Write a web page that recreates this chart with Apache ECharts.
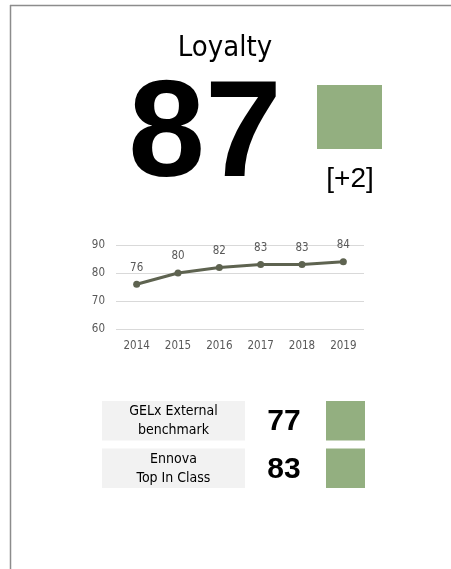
<!DOCTYPE html>
<html>
<head>
<meta charset="utf-8">
<script src="https://cdn.jsdelivr.net/npm/echarts@6/dist/echarts.min.js"></script>
<style>
  html, body { margin: 0; padding: 0; background: #fff; }
  #chart { width: 451px; height: 569px; }
</style>
</head>
<body>
<div id="chart"></div>
<script>
// trend data
const years = ["2014", "2015", "2016", "2017", "2018", "2019"];
const loyaltyValues = [76, 80, 82, 83, 83, 84];
const yTicks = [60, 70, 80, 90];

// headline kpi
const kpiTitle = "Loyalty";
const kpiScore = [87];
const kpiDelta = ["+2"];

// benchmarks
const benchLabels = ["GELx External\nbenchmark", "Ennova\nTop In Class"];
const benchScores = [77, 83];

const FONT = "'DejaVu Sans Condensed', 'DejaVu Sans', sans-serif";
const GREEN = "#93AF80";

const chart = echarts.init(document.getElementById("chart"));

const graphics = [
  // frame lines
  { type: "line", shape: { x1: 10.5, y1: 5, x2: 10.5, y2: 569 }, style: { stroke: "#8c8c8c", lineWidth: 1.5 } },
  { type: "line", shape: { x1: 10, y1: 5.5, x2: 451, y2: 5.5 }, style: { stroke: "#8c8c8c", lineWidth: 1.5 } },
  // title
  { type: "text", x: 225, y: 48, style: { text: kpiTitle, font: "29px " + FONT, fill: "#000", align: "center", verticalAlign: "middle" } },
  // big score
  { type: "text", x: 205, y: 138, style: { text: String(kpiScore[0]), font: "bold 138px 'Liberation Sans', Arial, sans-serif", fill: "#000", align: "center", verticalAlign: "middle" } },
  { type: "rect", shape: { x: 317, y: 85, width: 65, height: 64 }, style: { fill: GREEN } },
  { type: "text", x: 350, y: 179, style: { text: "[" + kpiDelta[0] + "]", font: "28px 'Liberation Sans', Arial, sans-serif", fill: "#000", align: "center", verticalAlign: "middle" } }
];

// benchmark rows
benchLabels.forEach((lbl, i) => {
  const top = 401 + i * 47.5;
  graphics.push(
    { type: "rect", shape: { x: 102, y: top, width: 143, height: 39.5 }, style: { fill: "#f2f2f2" } },
    { type: "text", x: 173.5, y: top + 20, style: { text: lbl, font: "14px " + FONT, lineHeight: 19, fill: "#000", align: "center", verticalAlign: "middle" } },
    { type: "text", x: 284, y: top + 21, style: { text: String(benchScores[i]), font: "bold 30px 'Liberation Sans', Arial, sans-serif", fill: "#000", align: "center", verticalAlign: "middle" } },
    { type: "rect", shape: { x: 326, y: top, width: 39, height: 39.5 }, style: { fill: GREEN } }
  );
});

const option = {
  animation: false,
  grid: { left: 116, right: 87, top: 245, height: 84 },
  xAxis: {
    type: "category",
    data: years,
    boundaryGap: true,
    axisLine: { show: false },
    axisTick: { show: false },
    axisLabel: { color: "#595959", fontSize: 11.5, fontFamily: FONT, margin: 11 }
  },
  yAxis: {
    type: "value",
    min: yTicks[0],
    max: yTicks[yTicks.length - 1],
    interval: 10,
    axisLabel: { color: "#595959", fontSize: 11.5, fontFamily: FONT, margin: 11 },
    splitLine: { lineStyle: { color: "#d9d9d9", width: 1 } }
  },
  series: [
    {
      type: "line",
      data: loyaltyValues,
      color: "#5e6350",
      lineStyle: { width: 3 },
      symbol: "circle",
      symbolSize: 7,
      label: { show: true, position: "top", distance: 7, color: "#595959", fontSize: 11.5, fontFamily: FONT }
    }
  ],
  graphic: graphics
};

chart.setOption(option);
</script>
</body>
</html>
